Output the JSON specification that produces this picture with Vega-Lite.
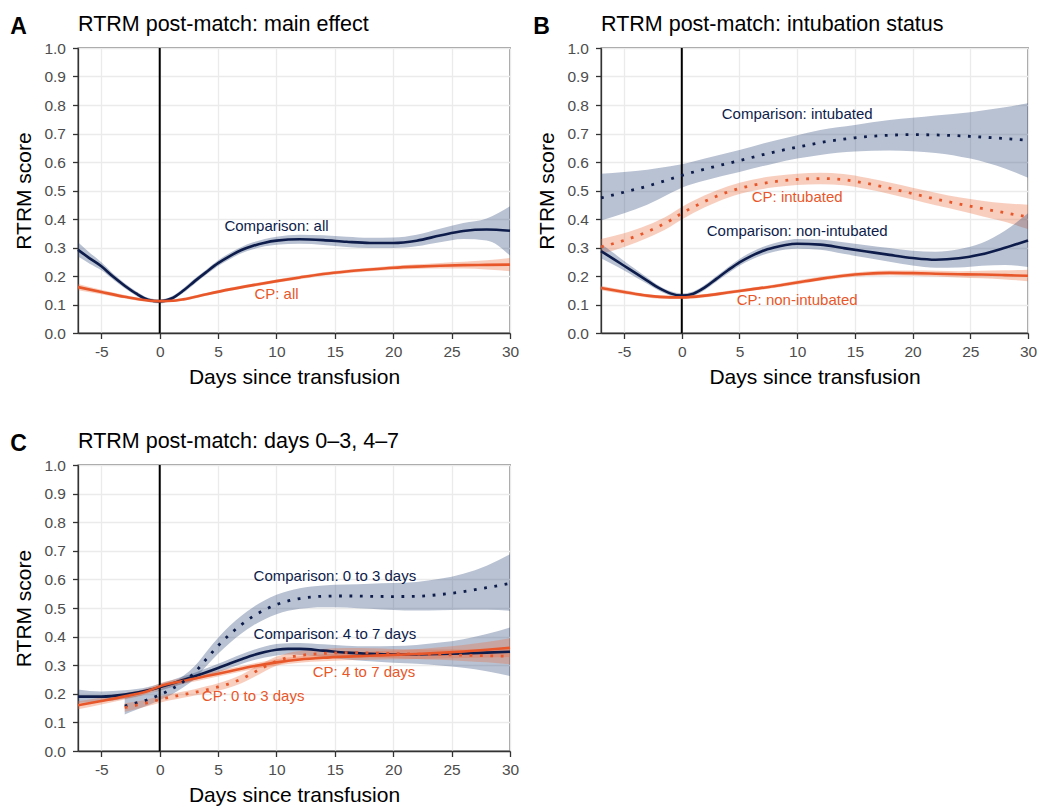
{
  "$schema": "https://vega.github.io/schema/vega-lite/v6.json",
  "padding": {"left": 10, "top": 12, "right": 5, "bottom": 2},
  "background": "white",
  "config": {
    "font": "Liberation Sans",
    "view": {"stroke": "#333333", "strokeWidth": 1.3},
    "axis": {
      "domainColor": "#333333", "domainWidth": 1.3,
      "tickColor": "#333333", "tickWidth": 1.3, "tickSize": 5.5,
      "labelColor": "#4d4d4d", "labelFont": "Liberation Sans", "labelFontSize": 15.5, "labelPadding": 6, "labelOverlap": false,
      "titleFont": "Liberation Sans", "titleFontSize": 21, "titleFontWeight": "normal", "titleColor": "#000000",
      "gridColor": "#ebebeb", "gridWidth": 1.3
    },
    "axisX": {"labelFlush": false, "titlePadding": 6, "tickCount": 20},
    "axisY": {"titlePadding": 9, "labelPadding": 7, "tickCount": 20},
    "title": {"font": "Liberation Sans", "color": "#000000"}
  },
  "datasets": {
    "dA": [
      {"series": "Comparison: all", "arm": "Comparison", "sub": "all", "day": -7, "est": 0.292, "lo": 0.268, "hi": 0.318},
      {"series": "Comparison: all", "arm": "Comparison", "sub": "all", "day": -6, "est": 0.262, "lo": 0.243, "hi": 0.282},
      {"series": "Comparison: all", "arm": "Comparison", "sub": "all", "day": -5, "est": 0.234, "lo": 0.220, "hi": 0.248},
      {"series": "Comparison: all", "arm": "Comparison", "sub": "all", "day": -4, "est": 0.198, "lo": 0.188, "hi": 0.209},
      {"series": "Comparison: all", "arm": "Comparison", "sub": "all", "day": -3, "est": 0.166, "lo": 0.157, "hi": 0.175},
      {"series": "Comparison: all", "arm": "Comparison", "sub": "all", "day": -2, "est": 0.138, "lo": 0.130, "hi": 0.146},
      {"series": "Comparison: all", "arm": "Comparison", "sub": "all", "day": -1, "est": 0.117, "lo": 0.110, "hi": 0.124},
      {"series": "Comparison: all", "arm": "Comparison", "sub": "all", "day": 0, "est": 0.111, "lo": 0.104, "hi": 0.118},
      {"series": "Comparison: all", "arm": "Comparison", "sub": "all", "day": 1, "est": 0.121, "lo": 0.114, "hi": 0.128},
      {"series": "Comparison: all", "arm": "Comparison", "sub": "all", "day": 2, "est": 0.148, "lo": 0.140, "hi": 0.156},
      {"series": "Comparison: all", "arm": "Comparison", "sub": "all", "day": 3, "est": 0.182, "lo": 0.173, "hi": 0.191},
      {"series": "Comparison: all", "arm": "Comparison", "sub": "all", "day": 4, "est": 0.214, "lo": 0.205, "hi": 0.223},
      {"series": "Comparison: all", "arm": "Comparison", "sub": "all", "day": 5, "est": 0.245, "lo": 0.235, "hi": 0.255},
      {"series": "Comparison: all", "arm": "Comparison", "sub": "all", "day": 6, "est": 0.270, "lo": 0.259, "hi": 0.281},
      {"series": "Comparison: all", "arm": "Comparison", "sub": "all", "day": 7, "est": 0.291, "lo": 0.280, "hi": 0.302},
      {"series": "Comparison: all", "arm": "Comparison", "sub": "all", "day": 8, "est": 0.306, "lo": 0.294, "hi": 0.318},
      {"series": "Comparison: all", "arm": "Comparison", "sub": "all", "day": 9, "est": 0.317, "lo": 0.304, "hi": 0.330},
      {"series": "Comparison: all", "arm": "Comparison", "sub": "all", "day": 10, "est": 0.324, "lo": 0.310, "hi": 0.338},
      {"series": "Comparison: all", "arm": "Comparison", "sub": "all", "day": 12, "est": 0.329, "lo": 0.313, "hi": 0.345},
      {"series": "Comparison: all", "arm": "Comparison", "sub": "all", "day": 14, "est": 0.326, "lo": 0.309, "hi": 0.343},
      {"series": "Comparison: all", "arm": "Comparison", "sub": "all", "day": 16, "est": 0.320, "lo": 0.302, "hi": 0.338},
      {"series": "Comparison: all", "arm": "Comparison", "sub": "all", "day": 18, "est": 0.316, "lo": 0.298, "hi": 0.334},
      {"series": "Comparison: all", "arm": "Comparison", "sub": "all", "day": 20, "est": 0.316, "lo": 0.298, "hi": 0.335},
      {"series": "Comparison: all", "arm": "Comparison", "sub": "all", "day": 22, "est": 0.324, "lo": 0.304, "hi": 0.345},
      {"series": "Comparison: all", "arm": "Comparison", "sub": "all", "day": 24, "est": 0.342, "lo": 0.318, "hi": 0.366},
      {"series": "Comparison: all", "arm": "Comparison", "sub": "all", "day": 26, "est": 0.358, "lo": 0.330, "hi": 0.386},
      {"series": "Comparison: all", "arm": "Comparison", "sub": "all", "day": 28, "est": 0.363, "lo": 0.325, "hi": 0.402},
      {"series": "Comparison: all", "arm": "Comparison", "sub": "all", "day": 30, "est": 0.359, "lo": 0.272, "hi": 0.445},
      {"series": "CP: all", "arm": "CP", "sub": "all", "day": -7, "est": 0.161, "lo": 0.150, "hi": 0.172},
      {"series": "CP: all", "arm": "CP", "sub": "all", "day": -5, "est": 0.144, "lo": 0.136, "hi": 0.152},
      {"series": "CP: all", "arm": "CP", "sub": "all", "day": -3, "est": 0.127, "lo": 0.121, "hi": 0.133},
      {"series": "CP: all", "arm": "CP", "sub": "all", "day": -1, "est": 0.114, "lo": 0.109, "hi": 0.119},
      {"series": "CP: all", "arm": "CP", "sub": "all", "day": 0, "est": 0.112, "lo": 0.107, "hi": 0.117},
      {"series": "CP: all", "arm": "CP", "sub": "all", "day": 1, "est": 0.113, "lo": 0.108, "hi": 0.118},
      {"series": "CP: all", "arm": "CP", "sub": "all", "day": 2, "est": 0.118, "lo": 0.113, "hi": 0.123},
      {"series": "CP: all", "arm": "CP", "sub": "all", "day": 4, "est": 0.136, "lo": 0.131, "hi": 0.141},
      {"series": "CP: all", "arm": "CP", "sub": "all", "day": 6, "est": 0.153, "lo": 0.147, "hi": 0.159},
      {"series": "CP: all", "arm": "CP", "sub": "all", "day": 8, "est": 0.168, "lo": 0.162, "hi": 0.174},
      {"series": "CP: all", "arm": "CP", "sub": "all", "day": 10, "est": 0.182, "lo": 0.176, "hi": 0.188},
      {"series": "CP: all", "arm": "CP", "sub": "all", "day": 12, "est": 0.195, "lo": 0.189, "hi": 0.201},
      {"series": "CP: all", "arm": "CP", "sub": "all", "day": 14, "est": 0.207, "lo": 0.201, "hi": 0.213},
      {"series": "CP: all", "arm": "CP", "sub": "all", "day": 16, "est": 0.216, "lo": 0.210, "hi": 0.222},
      {"series": "CP: all", "arm": "CP", "sub": "all", "day": 18, "est": 0.223, "lo": 0.217, "hi": 0.229},
      {"series": "CP: all", "arm": "CP", "sub": "all", "day": 20, "est": 0.229, "lo": 0.222, "hi": 0.236},
      {"series": "CP: all", "arm": "CP", "sub": "all", "day": 22, "est": 0.233, "lo": 0.225, "hi": 0.241},
      {"series": "CP: all", "arm": "CP", "sub": "all", "day": 24, "est": 0.236, "lo": 0.226, "hi": 0.246},
      {"series": "CP: all", "arm": "CP", "sub": "all", "day": 26, "est": 0.238, "lo": 0.226, "hi": 0.250},
      {"series": "CP: all", "arm": "CP", "sub": "all", "day": 28, "est": 0.239, "lo": 0.223, "hi": 0.255},
      {"series": "CP: all", "arm": "CP", "sub": "all", "day": 30, "est": 0.240, "lo": 0.217, "hi": 0.263}
    ],
    "dB": [
      {"series": "Comparison: intubated", "arm": "Comparison", "sub": "intubated", "day": -7, "est": 0.474, "lo": 0.395, "hi": 0.559},
      {"series": "Comparison: intubated", "arm": "Comparison", "sub": "intubated", "day": -5, "est": 0.494, "lo": 0.420, "hi": 0.565},
      {"series": "Comparison: intubated", "arm": "Comparison", "sub": "intubated", "day": -3, "est": 0.515, "lo": 0.450, "hi": 0.573},
      {"series": "Comparison: intubated", "arm": "Comparison", "sub": "intubated", "day": -1, "est": 0.540, "lo": 0.490, "hi": 0.585},
      {"series": "Comparison: intubated", "arm": "Comparison", "sub": "intubated", "day": 0, "est": 0.553, "lo": 0.510, "hi": 0.592},
      {"series": "Comparison: intubated", "arm": "Comparison", "sub": "intubated", "day": 2, "est": 0.575, "lo": 0.535, "hi": 0.612},
      {"series": "Comparison: intubated", "arm": "Comparison", "sub": "intubated", "day": 5, "est": 0.605, "lo": 0.565, "hi": 0.642},
      {"series": "Comparison: intubated", "arm": "Comparison", "sub": "intubated", "day": 8, "est": 0.635, "lo": 0.595, "hi": 0.675},
      {"series": "Comparison: intubated", "arm": "Comparison", "sub": "intubated", "day": 10, "est": 0.652, "lo": 0.612, "hi": 0.694},
      {"series": "Comparison: intubated", "arm": "Comparison", "sub": "intubated", "day": 12, "est": 0.668, "lo": 0.625, "hi": 0.712},
      {"series": "Comparison: intubated", "arm": "Comparison", "sub": "intubated", "day": 15, "est": 0.685, "lo": 0.637, "hi": 0.730},
      {"series": "Comparison: intubated", "arm": "Comparison", "sub": "intubated", "day": 18, "est": 0.694, "lo": 0.640, "hi": 0.747},
      {"series": "Comparison: intubated", "arm": "Comparison", "sub": "intubated", "day": 20, "est": 0.696, "lo": 0.638, "hi": 0.755},
      {"series": "Comparison: intubated", "arm": "Comparison", "sub": "intubated", "day": 22, "est": 0.695, "lo": 0.632, "hi": 0.763},
      {"series": "Comparison: intubated", "arm": "Comparison", "sub": "intubated", "day": 25, "est": 0.690, "lo": 0.612, "hi": 0.775},
      {"series": "Comparison: intubated", "arm": "Comparison", "sub": "intubated", "day": 28, "est": 0.682, "lo": 0.577, "hi": 0.792},
      {"series": "Comparison: intubated", "arm": "Comparison", "sub": "intubated", "day": 30, "est": 0.676, "lo": 0.545, "hi": 0.806},
      {"series": "CP: intubated", "arm": "CP", "sub": "intubated", "day": -7, "est": 0.302, "lo": 0.277, "hi": 0.330},
      {"series": "CP: intubated", "arm": "CP", "sub": "intubated", "day": -5, "est": 0.325, "lo": 0.302, "hi": 0.350},
      {"series": "CP: intubated", "arm": "CP", "sub": "intubated", "day": -3, "est": 0.355, "lo": 0.333, "hi": 0.378},
      {"series": "CP: intubated", "arm": "CP", "sub": "intubated", "day": -1, "est": 0.395, "lo": 0.373, "hi": 0.417},
      {"series": "CP: intubated", "arm": "CP", "sub": "intubated", "day": 0, "est": 0.420, "lo": 0.398, "hi": 0.442},
      {"series": "CP: intubated", "arm": "CP", "sub": "intubated", "day": 2, "est": 0.462, "lo": 0.441, "hi": 0.483},
      {"series": "CP: intubated", "arm": "CP", "sub": "intubated", "day": 4, "est": 0.495, "lo": 0.475, "hi": 0.515},
      {"series": "CP: intubated", "arm": "CP", "sub": "intubated", "day": 6, "est": 0.517, "lo": 0.497, "hi": 0.537},
      {"series": "CP: intubated", "arm": "CP", "sub": "intubated", "day": 8, "est": 0.531, "lo": 0.511, "hi": 0.551},
      {"series": "CP: intubated", "arm": "CP", "sub": "intubated", "day": 10, "est": 0.539, "lo": 0.519, "hi": 0.559},
      {"series": "CP: intubated", "arm": "CP", "sub": "intubated", "day": 12, "est": 0.542, "lo": 0.522, "hi": 0.562},
      {"series": "CP: intubated", "arm": "CP", "sub": "intubated", "day": 14, "est": 0.538, "lo": 0.518, "hi": 0.558},
      {"series": "CP: intubated", "arm": "CP", "sub": "intubated", "day": 16, "est": 0.525, "lo": 0.505, "hi": 0.545},
      {"series": "CP: intubated", "arm": "CP", "sub": "intubated", "day": 18, "est": 0.508, "lo": 0.488, "hi": 0.528},
      {"series": "CP: intubated", "arm": "CP", "sub": "intubated", "day": 20, "est": 0.489, "lo": 0.468, "hi": 0.510},
      {"series": "CP: intubated", "arm": "CP", "sub": "intubated", "day": 22, "est": 0.470, "lo": 0.448, "hi": 0.492},
      {"series": "CP: intubated", "arm": "CP", "sub": "intubated", "day": 24, "est": 0.453, "lo": 0.430, "hi": 0.476},
      {"series": "CP: intubated", "arm": "CP", "sub": "intubated", "day": 26, "est": 0.437, "lo": 0.410, "hi": 0.464},
      {"series": "CP: intubated", "arm": "CP", "sub": "intubated", "day": 28, "est": 0.422, "lo": 0.390, "hi": 0.455},
      {"series": "CP: intubated", "arm": "CP", "sub": "intubated", "day": 30, "est": 0.407, "lo": 0.365, "hi": 0.450},
      {"series": "Comparison: non-intubated", "arm": "Comparison", "sub": "non-intubated", "day": -7, "est": 0.287, "lo": 0.262, "hi": 0.312},
      {"series": "Comparison: non-intubated", "arm": "Comparison", "sub": "non-intubated", "day": -6, "est": 0.262, "lo": 0.241, "hi": 0.283},
      {"series": "Comparison: non-intubated", "arm": "Comparison", "sub": "non-intubated", "day": -5, "est": 0.236, "lo": 0.219, "hi": 0.253},
      {"series": "Comparison: non-intubated", "arm": "Comparison", "sub": "non-intubated", "day": -4, "est": 0.210, "lo": 0.196, "hi": 0.224},
      {"series": "Comparison: non-intubated", "arm": "Comparison", "sub": "non-intubated", "day": -3, "est": 0.184, "lo": 0.173, "hi": 0.195},
      {"series": "Comparison: non-intubated", "arm": "Comparison", "sub": "non-intubated", "day": -2, "est": 0.158, "lo": 0.149, "hi": 0.167},
      {"series": "Comparison: non-intubated", "arm": "Comparison", "sub": "non-intubated", "day": -1, "est": 0.139, "lo": 0.131, "hi": 0.147},
      {"series": "Comparison: non-intubated", "arm": "Comparison", "sub": "non-intubated", "day": 0, "est": 0.131, "lo": 0.123, "hi": 0.139},
      {"series": "Comparison: non-intubated", "arm": "Comparison", "sub": "non-intubated", "day": 1, "est": 0.138, "lo": 0.130, "hi": 0.146},
      {"series": "Comparison: non-intubated", "arm": "Comparison", "sub": "non-intubated", "day": 2, "est": 0.160, "lo": 0.151, "hi": 0.169},
      {"series": "Comparison: non-intubated", "arm": "Comparison", "sub": "non-intubated", "day": 3, "est": 0.190, "lo": 0.180, "hi": 0.200},
      {"series": "Comparison: non-intubated", "arm": "Comparison", "sub": "non-intubated", "day": 4, "est": 0.220, "lo": 0.209, "hi": 0.231},
      {"series": "Comparison: non-intubated", "arm": "Comparison", "sub": "non-intubated", "day": 5, "est": 0.248, "lo": 0.236, "hi": 0.260},
      {"series": "Comparison: non-intubated", "arm": "Comparison", "sub": "non-intubated", "day": 6, "est": 0.270, "lo": 0.257, "hi": 0.283},
      {"series": "Comparison: non-intubated", "arm": "Comparison", "sub": "non-intubated", "day": 7, "est": 0.288, "lo": 0.274, "hi": 0.302},
      {"series": "Comparison: non-intubated", "arm": "Comparison", "sub": "non-intubated", "day": 8, "est": 0.300, "lo": 0.285, "hi": 0.315},
      {"series": "Comparison: non-intubated", "arm": "Comparison", "sub": "non-intubated", "day": 9, "est": 0.309, "lo": 0.293, "hi": 0.325},
      {"series": "Comparison: non-intubated", "arm": "Comparison", "sub": "non-intubated", "day": 10, "est": 0.313, "lo": 0.296, "hi": 0.330},
      {"series": "Comparison: non-intubated", "arm": "Comparison", "sub": "non-intubated", "day": 12, "est": 0.310, "lo": 0.292, "hi": 0.328},
      {"series": "Comparison: non-intubated", "arm": "Comparison", "sub": "non-intubated", "day": 14, "est": 0.298, "lo": 0.278, "hi": 0.318},
      {"series": "Comparison: non-intubated", "arm": "Comparison", "sub": "non-intubated", "day": 16, "est": 0.286, "lo": 0.264, "hi": 0.308},
      {"series": "Comparison: non-intubated", "arm": "Comparison", "sub": "non-intubated", "day": 18, "est": 0.274, "lo": 0.250, "hi": 0.298},
      {"series": "Comparison: non-intubated", "arm": "Comparison", "sub": "non-intubated", "day": 20, "est": 0.263, "lo": 0.237, "hi": 0.289},
      {"series": "Comparison: non-intubated", "arm": "Comparison", "sub": "non-intubated", "day": 22, "est": 0.257, "lo": 0.229, "hi": 0.285},
      {"series": "Comparison: non-intubated", "arm": "Comparison", "sub": "non-intubated", "day": 24, "est": 0.262, "lo": 0.230, "hi": 0.294},
      {"series": "Comparison: non-intubated", "arm": "Comparison", "sub": "non-intubated", "day": 26, "est": 0.276, "lo": 0.236, "hi": 0.316},
      {"series": "Comparison: non-intubated", "arm": "Comparison", "sub": "non-intubated", "day": 28, "est": 0.299, "lo": 0.239, "hi": 0.359},
      {"series": "Comparison: non-intubated", "arm": "Comparison", "sub": "non-intubated", "day": 30, "est": 0.325, "lo": 0.232, "hi": 0.420},
      {"series": "CP: non-intubated", "arm": "CP", "sub": "non-intubated", "day": -7, "est": 0.158, "lo": 0.150, "hi": 0.166},
      {"series": "CP: non-intubated", "arm": "CP", "sub": "non-intubated", "day": -5, "est": 0.144, "lo": 0.137, "hi": 0.151},
      {"series": "CP: non-intubated", "arm": "CP", "sub": "non-intubated", "day": -3, "est": 0.131, "lo": 0.125, "hi": 0.137},
      {"series": "CP: non-intubated", "arm": "CP", "sub": "non-intubated", "day": -1, "est": 0.125, "lo": 0.119, "hi": 0.131},
      {"series": "CP: non-intubated", "arm": "CP", "sub": "non-intubated", "day": 0, "est": 0.125, "lo": 0.119, "hi": 0.131},
      {"series": "CP: non-intubated", "arm": "CP", "sub": "non-intubated", "day": 2, "est": 0.131, "lo": 0.125, "hi": 0.137},
      {"series": "CP: non-intubated", "arm": "CP", "sub": "non-intubated", "day": 4, "est": 0.142, "lo": 0.136, "hi": 0.148},
      {"series": "CP: non-intubated", "arm": "CP", "sub": "non-intubated", "day": 6, "est": 0.153, "lo": 0.147, "hi": 0.159},
      {"series": "CP: non-intubated", "arm": "CP", "sub": "non-intubated", "day": 8, "est": 0.164, "lo": 0.158, "hi": 0.170},
      {"series": "CP: non-intubated", "arm": "CP", "sub": "non-intubated", "day": 10, "est": 0.177, "lo": 0.170, "hi": 0.184},
      {"series": "CP: non-intubated", "arm": "CP", "sub": "non-intubated", "day": 12, "est": 0.190, "lo": 0.183, "hi": 0.197},
      {"series": "CP: non-intubated", "arm": "CP", "sub": "non-intubated", "day": 14, "est": 0.201, "lo": 0.194, "hi": 0.208},
      {"series": "CP: non-intubated", "arm": "CP", "sub": "non-intubated", "day": 16, "est": 0.208, "lo": 0.200, "hi": 0.216},
      {"series": "CP: non-intubated", "arm": "CP", "sub": "non-intubated", "day": 18, "est": 0.211, "lo": 0.203, "hi": 0.219},
      {"series": "CP: non-intubated", "arm": "CP", "sub": "non-intubated", "day": 20, "est": 0.210, "lo": 0.201, "hi": 0.219},
      {"series": "CP: non-intubated", "arm": "CP", "sub": "non-intubated", "day": 22, "est": 0.208, "lo": 0.198, "hi": 0.218},
      {"series": "CP: non-intubated", "arm": "CP", "sub": "non-intubated", "day": 24, "est": 0.206, "lo": 0.195, "hi": 0.217},
      {"series": "CP: non-intubated", "arm": "CP", "sub": "non-intubated", "day": 26, "est": 0.205, "lo": 0.192, "hi": 0.218},
      {"series": "CP: non-intubated", "arm": "CP", "sub": "non-intubated", "day": 28, "est": 0.203, "lo": 0.188, "hi": 0.220},
      {"series": "CP: non-intubated", "arm": "CP", "sub": "non-intubated", "day": 30, "est": 0.201, "lo": 0.182, "hi": 0.222}
    ],
    "dC": [
      {"series": "Comparison: 0 to 3 days", "arm": "Comparison", "sub": "0 to 3 days", "day": -3, "est": 0.157, "lo": 0.128, "hi": 0.186},
      {"series": "Comparison: 0 to 3 days", "arm": "Comparison", "sub": "0 to 3 days", "day": -2, "est": 0.168, "lo": 0.144, "hi": 0.193},
      {"series": "Comparison: 0 to 3 days", "arm": "Comparison", "sub": "0 to 3 days", "day": -1, "est": 0.180, "lo": 0.160, "hi": 0.200},
      {"series": "Comparison: 0 to 3 days", "arm": "Comparison", "sub": "0 to 3 days", "day": 0, "est": 0.196, "lo": 0.178, "hi": 0.214},
      {"series": "Comparison: 0 to 3 days", "arm": "Comparison", "sub": "0 to 3 days", "day": 1, "est": 0.216, "lo": 0.197, "hi": 0.235},
      {"series": "Comparison: 0 to 3 days", "arm": "Comparison", "sub": "0 to 3 days", "day": 2, "est": 0.242, "lo": 0.222, "hi": 0.262},
      {"series": "Comparison: 0 to 3 days", "arm": "Comparison", "sub": "0 to 3 days", "day": 3, "est": 0.275, "lo": 0.253, "hi": 0.297},
      {"series": "Comparison: 0 to 3 days", "arm": "Comparison", "sub": "0 to 3 days", "day": 4, "est": 0.322, "lo": 0.297, "hi": 0.347},
      {"series": "Comparison: 0 to 3 days", "arm": "Comparison", "sub": "0 to 3 days", "day": 5, "est": 0.368, "lo": 0.340, "hi": 0.396},
      {"series": "Comparison: 0 to 3 days", "arm": "Comparison", "sub": "0 to 3 days", "day": 6, "est": 0.408, "lo": 0.378, "hi": 0.438},
      {"series": "Comparison: 0 to 3 days", "arm": "Comparison", "sub": "0 to 3 days", "day": 7, "est": 0.442, "lo": 0.411, "hi": 0.473},
      {"series": "Comparison: 0 to 3 days", "arm": "Comparison", "sub": "0 to 3 days", "day": 8, "est": 0.471, "lo": 0.439, "hi": 0.503},
      {"series": "Comparison: 0 to 3 days", "arm": "Comparison", "sub": "0 to 3 days", "day": 9, "est": 0.494, "lo": 0.461, "hi": 0.527},
      {"series": "Comparison: 0 to 3 days", "arm": "Comparison", "sub": "0 to 3 days", "day": 10, "est": 0.512, "lo": 0.478, "hi": 0.546},
      {"series": "Comparison: 0 to 3 days", "arm": "Comparison", "sub": "0 to 3 days", "day": 12, "est": 0.533, "lo": 0.497, "hi": 0.569},
      {"series": "Comparison: 0 to 3 days", "arm": "Comparison", "sub": "0 to 3 days", "day": 14, "est": 0.541, "lo": 0.503, "hi": 0.579},
      {"series": "Comparison: 0 to 3 days", "arm": "Comparison", "sub": "0 to 3 days", "day": 16, "est": 0.542, "lo": 0.502, "hi": 0.582},
      {"series": "Comparison: 0 to 3 days", "arm": "Comparison", "sub": "0 to 3 days", "day": 18, "est": 0.541, "lo": 0.497, "hi": 0.585},
      {"series": "Comparison: 0 to 3 days", "arm": "Comparison", "sub": "0 to 3 days", "day": 20, "est": 0.540, "lo": 0.493, "hi": 0.587},
      {"series": "Comparison: 0 to 3 days", "arm": "Comparison", "sub": "0 to 3 days", "day": 22, "est": 0.541, "lo": 0.491, "hi": 0.591},
      {"series": "Comparison: 0 to 3 days", "arm": "Comparison", "sub": "0 to 3 days", "day": 24, "est": 0.547, "lo": 0.492, "hi": 0.602},
      {"series": "Comparison: 0 to 3 days", "arm": "Comparison", "sub": "0 to 3 days", "day": 26, "est": 0.557, "lo": 0.494, "hi": 0.620},
      {"series": "Comparison: 0 to 3 days", "arm": "Comparison", "sub": "0 to 3 days", "day": 28, "est": 0.571, "lo": 0.494, "hi": 0.648},
      {"series": "Comparison: 0 to 3 days", "arm": "Comparison", "sub": "0 to 3 days", "day": 30, "est": 0.586, "lo": 0.490, "hi": 0.688},
      {"series": "Comparison: 4 to 7 days", "arm": "Comparison", "sub": "4 to 7 days", "day": -7, "est": 0.190, "lo": 0.168, "hi": 0.215},
      {"series": "Comparison: 4 to 7 days", "arm": "Comparison", "sub": "4 to 7 days", "day": -5, "est": 0.190, "lo": 0.173, "hi": 0.208},
      {"series": "Comparison: 4 to 7 days", "arm": "Comparison", "sub": "4 to 7 days", "day": -3, "est": 0.197, "lo": 0.183, "hi": 0.212},
      {"series": "Comparison: 4 to 7 days", "arm": "Comparison", "sub": "4 to 7 days", "day": -1, "est": 0.212, "lo": 0.200, "hi": 0.224},
      {"series": "Comparison: 4 to 7 days", "arm": "Comparison", "sub": "4 to 7 days", "day": 0, "est": 0.223, "lo": 0.211, "hi": 0.235},
      {"series": "Comparison: 4 to 7 days", "arm": "Comparison", "sub": "4 to 7 days", "day": 1, "est": 0.235, "lo": 0.223, "hi": 0.247},
      {"series": "Comparison: 4 to 7 days", "arm": "Comparison", "sub": "4 to 7 days", "day": 2, "est": 0.248, "lo": 0.235, "hi": 0.261},
      {"series": "Comparison: 4 to 7 days", "arm": "Comparison", "sub": "4 to 7 days", "day": 3, "est": 0.261, "lo": 0.248, "hi": 0.274},
      {"series": "Comparison: 4 to 7 days", "arm": "Comparison", "sub": "4 to 7 days", "day": 4, "est": 0.275, "lo": 0.261, "hi": 0.289},
      {"series": "Comparison: 4 to 7 days", "arm": "Comparison", "sub": "4 to 7 days", "day": 5, "est": 0.290, "lo": 0.275, "hi": 0.305},
      {"series": "Comparison: 4 to 7 days", "arm": "Comparison", "sub": "4 to 7 days", "day": 6, "est": 0.306, "lo": 0.290, "hi": 0.322},
      {"series": "Comparison: 4 to 7 days", "arm": "Comparison", "sub": "4 to 7 days", "day": 7, "est": 0.321, "lo": 0.304, "hi": 0.338},
      {"series": "Comparison: 4 to 7 days", "arm": "Comparison", "sub": "4 to 7 days", "day": 8, "est": 0.335, "lo": 0.317, "hi": 0.353},
      {"series": "Comparison: 4 to 7 days", "arm": "Comparison", "sub": "4 to 7 days", "day": 9, "est": 0.346, "lo": 0.327, "hi": 0.365},
      {"series": "Comparison: 4 to 7 days", "arm": "Comparison", "sub": "4 to 7 days", "day": 10, "est": 0.354, "lo": 0.334, "hi": 0.374},
      {"series": "Comparison: 4 to 7 days", "arm": "Comparison", "sub": "4 to 7 days", "day": 11, "est": 0.357, "lo": 0.337, "hi": 0.377},
      {"series": "Comparison: 4 to 7 days", "arm": "Comparison", "sub": "4 to 7 days", "day": 12, "est": 0.357, "lo": 0.336, "hi": 0.378},
      {"series": "Comparison: 4 to 7 days", "arm": "Comparison", "sub": "4 to 7 days", "day": 14, "est": 0.351, "lo": 0.329, "hi": 0.373},
      {"series": "Comparison: 4 to 7 days", "arm": "Comparison", "sub": "4 to 7 days", "day": 16, "est": 0.344, "lo": 0.320, "hi": 0.368},
      {"series": "Comparison: 4 to 7 days", "arm": "Comparison", "sub": "4 to 7 days", "day": 18, "est": 0.340, "lo": 0.314, "hi": 0.366},
      {"series": "Comparison: 4 to 7 days", "arm": "Comparison", "sub": "4 to 7 days", "day": 20, "est": 0.338, "lo": 0.309, "hi": 0.367},
      {"series": "Comparison: 4 to 7 days", "arm": "Comparison", "sub": "4 to 7 days", "day": 22, "est": 0.338, "lo": 0.305, "hi": 0.371},
      {"series": "Comparison: 4 to 7 days", "arm": "Comparison", "sub": "4 to 7 days", "day": 24, "est": 0.339, "lo": 0.299, "hi": 0.379},
      {"series": "Comparison: 4 to 7 days", "arm": "Comparison", "sub": "4 to 7 days", "day": 26, "est": 0.341, "lo": 0.291, "hi": 0.391},
      {"series": "Comparison: 4 to 7 days", "arm": "Comparison", "sub": "4 to 7 days", "day": 28, "est": 0.344, "lo": 0.279, "hi": 0.409},
      {"series": "Comparison: 4 to 7 days", "arm": "Comparison", "sub": "4 to 7 days", "day": 30, "est": 0.347, "lo": 0.262, "hi": 0.432},
      {"series": "CP: 0 to 3 days", "arm": "CP", "sub": "0 to 3 days", "day": -3, "est": 0.152, "lo": 0.137, "hi": 0.167},
      {"series": "CP: 0 to 3 days", "arm": "CP", "sub": "0 to 3 days", "day": -2, "est": 0.160, "lo": 0.147, "hi": 0.173},
      {"series": "CP: 0 to 3 days", "arm": "CP", "sub": "0 to 3 days", "day": -1, "est": 0.169, "lo": 0.157, "hi": 0.181},
      {"series": "CP: 0 to 3 days", "arm": "CP", "sub": "0 to 3 days", "day": 0, "est": 0.180, "lo": 0.169, "hi": 0.191},
      {"series": "CP: 0 to 3 days", "arm": "CP", "sub": "0 to 3 days", "day": 1, "est": 0.189, "lo": 0.178, "hi": 0.200},
      {"series": "CP: 0 to 3 days", "arm": "CP", "sub": "0 to 3 days", "day": 2, "est": 0.197, "lo": 0.186, "hi": 0.208},
      {"series": "CP: 0 to 3 days", "arm": "CP", "sub": "0 to 3 days", "day": 3, "est": 0.205, "lo": 0.194, "hi": 0.216},
      {"series": "CP: 0 to 3 days", "arm": "CP", "sub": "0 to 3 days", "day": 4, "est": 0.214, "lo": 0.202, "hi": 0.226},
      {"series": "CP: 0 to 3 days", "arm": "CP", "sub": "0 to 3 days", "day": 5, "est": 0.224, "lo": 0.211, "hi": 0.237},
      {"series": "CP: 0 to 3 days", "arm": "CP", "sub": "0 to 3 days", "day": 6, "est": 0.236, "lo": 0.222, "hi": 0.250},
      {"series": "CP: 0 to 3 days", "arm": "CP", "sub": "0 to 3 days", "day": 7, "est": 0.252, "lo": 0.237, "hi": 0.267},
      {"series": "CP: 0 to 3 days", "arm": "CP", "sub": "0 to 3 days", "day": 8, "est": 0.273, "lo": 0.257, "hi": 0.289},
      {"series": "CP: 0 to 3 days", "arm": "CP", "sub": "0 to 3 days", "day": 9, "est": 0.295, "lo": 0.279, "hi": 0.311},
      {"series": "CP: 0 to 3 days", "arm": "CP", "sub": "0 to 3 days", "day": 10, "est": 0.314, "lo": 0.298, "hi": 0.330},
      {"series": "CP: 0 to 3 days", "arm": "CP", "sub": "0 to 3 days", "day": 11, "est": 0.327, "lo": 0.311, "hi": 0.343},
      {"series": "CP: 0 to 3 days", "arm": "CP", "sub": "0 to 3 days", "day": 12, "est": 0.334, "lo": 0.318, "hi": 0.350},
      {"series": "CP: 0 to 3 days", "arm": "CP", "sub": "0 to 3 days", "day": 14, "est": 0.341, "lo": 0.325, "hi": 0.357},
      {"series": "CP: 0 to 3 days", "arm": "CP", "sub": "0 to 3 days", "day": 16, "est": 0.344, "lo": 0.328, "hi": 0.360},
      {"series": "CP: 0 to 3 days", "arm": "CP", "sub": "0 to 3 days", "day": 18, "est": 0.343, "lo": 0.327, "hi": 0.359},
      {"series": "CP: 0 to 3 days", "arm": "CP", "sub": "0 to 3 days", "day": 20, "est": 0.341, "lo": 0.325, "hi": 0.357},
      {"series": "CP: 0 to 3 days", "arm": "CP", "sub": "0 to 3 days", "day": 22, "est": 0.339, "lo": 0.322, "hi": 0.356},
      {"series": "CP: 0 to 3 days", "arm": "CP", "sub": "0 to 3 days", "day": 24, "est": 0.337, "lo": 0.319, "hi": 0.355},
      {"series": "CP: 0 to 3 days", "arm": "CP", "sub": "0 to 3 days", "day": 26, "est": 0.335, "lo": 0.315, "hi": 0.355},
      {"series": "CP: 0 to 3 days", "arm": "CP", "sub": "0 to 3 days", "day": 28, "est": 0.333, "lo": 0.310, "hi": 0.356},
      {"series": "CP: 0 to 3 days", "arm": "CP", "sub": "0 to 3 days", "day": 30, "est": 0.331, "lo": 0.303, "hi": 0.359},
      {"series": "CP: 4 to 7 days", "arm": "CP", "sub": "4 to 7 days", "day": -7, "est": 0.160, "lo": 0.146, "hi": 0.174},
      {"series": "CP: 4 to 7 days", "arm": "CP", "sub": "4 to 7 days", "day": -5, "est": 0.175, "lo": 0.163, "hi": 0.187},
      {"series": "CP: 4 to 7 days", "arm": "CP", "sub": "4 to 7 days", "day": -3, "est": 0.191, "lo": 0.180, "hi": 0.202},
      {"series": "CP: 4 to 7 days", "arm": "CP", "sub": "4 to 7 days", "day": -1, "est": 0.210, "lo": 0.200, "hi": 0.220},
      {"series": "CP: 4 to 7 days", "arm": "CP", "sub": "4 to 7 days", "day": 0, "est": 0.226, "lo": 0.215, "hi": 0.237},
      {"series": "CP: 4 to 7 days", "arm": "CP", "sub": "4 to 7 days", "day": 2, "est": 0.245, "lo": 0.235, "hi": 0.255},
      {"series": "CP: 4 to 7 days", "arm": "CP", "sub": "4 to 7 days", "day": 4, "est": 0.262, "lo": 0.252, "hi": 0.272},
      {"series": "CP: 4 to 7 days", "arm": "CP", "sub": "4 to 7 days", "day": 6, "est": 0.279, "lo": 0.269, "hi": 0.289},
      {"series": "CP: 4 to 7 days", "arm": "CP", "sub": "4 to 7 days", "day": 8, "est": 0.296, "lo": 0.286, "hi": 0.306},
      {"series": "CP: 4 to 7 days", "arm": "CP", "sub": "4 to 7 days", "day": 10, "est": 0.310, "lo": 0.299, "hi": 0.321},
      {"series": "CP: 4 to 7 days", "arm": "CP", "sub": "4 to 7 days", "day": 12, "est": 0.320, "lo": 0.309, "hi": 0.331},
      {"series": "CP: 4 to 7 days", "arm": "CP", "sub": "4 to 7 days", "day": 14, "est": 0.326, "lo": 0.314, "hi": 0.338},
      {"series": "CP: 4 to 7 days", "arm": "CP", "sub": "4 to 7 days", "day": 16, "est": 0.330, "lo": 0.317, "hi": 0.343},
      {"series": "CP: 4 to 7 days", "arm": "CP", "sub": "4 to 7 days", "day": 18, "est": 0.333, "lo": 0.319, "hi": 0.347},
      {"series": "CP: 4 to 7 days", "arm": "CP", "sub": "4 to 7 days", "day": 20, "est": 0.336, "lo": 0.321, "hi": 0.351},
      {"series": "CP: 4 to 7 days", "arm": "CP", "sub": "4 to 7 days", "day": 22, "est": 0.339, "lo": 0.322, "hi": 0.356},
      {"series": "CP: 4 to 7 days", "arm": "CP", "sub": "4 to 7 days", "day": 24, "est": 0.343, "lo": 0.323, "hi": 0.363},
      {"series": "CP: 4 to 7 days", "arm": "CP", "sub": "4 to 7 days", "day": 26, "est": 0.348, "lo": 0.325, "hi": 0.371},
      {"series": "CP: 4 to 7 days", "arm": "CP", "sub": "4 to 7 days", "day": 28, "est": 0.354, "lo": 0.327, "hi": 0.381},
      {"series": "CP: 4 to 7 days", "arm": "CP", "sub": "4 to 7 days", "day": 30, "est": 0.361, "lo": 0.329, "hi": 0.394}
    ],
    "lA": [
      {"label": "Comparison: all", "arm": "Comparison", "day": 10, "score": 0.377},
      {"label": "CP: all", "arm": "CP", "day": 10, "score": 0.136}
    ],
    "lB": [
      {"label": "Comparison: intubated", "arm": "Comparison", "day": 10, "score": 0.768},
      {"label": "CP: intubated", "arm": "CP", "day": 10, "score": 0.477},
      {"label": "Comparison: non-intubated", "arm": "Comparison", "day": 10, "score": 0.357},
      {"label": "CP: non-intubated", "arm": "CP", "day": 10, "score": 0.117}
    ],
    "lC": [
      {"label": "Comparison: 0 to 3 days", "arm": "Comparison", "day": 15, "score": 0.612},
      {"label": "Comparison: 4 to 7 days", "arm": "Comparison", "day": 15, "score": 0.408},
      {"label": "CP: 4 to 7 days", "arm": "CP", "day": 17.5, "score": 0.277},
      {"label": "CP: 0 to 3 days", "arm": "CP", "day": 8, "score": 0.192}
    ]
  },
  "vconcat": [
    {
      "hconcat": [
        {
          "title": {"text": "A", "anchor": "start", "frame": "bounds", "fontSize": 23, "fontWeight": "bold", "offset": -26, "dx": -3},
          "vconcat": [
            {
              "width": 432, "height": 285,
              "title": {"text": "RTRM post-match: main effect", "anchor": "start", "frame": "group", "fontSize": 21.5, "fontWeight": "normal", "offset": 6},
              "layer": [
                {"data": {"name": "dA"}, "mark": {"type": "area", "interpolate": "monotone", "opacity": 0.33},
                 "encoding": {
                   "x": {"field": "day", "type": "quantitative", "scale": {"domain": [-7, 30], "nice": false, "zero": false},
                         "axis": {"values": [-5, 0, 5, 10, 15, 20, 25, 30], "tickCount": 20, "title": "Days since transfusion", "labelExpr": "replace(datum.label, '\u2212', '-')"}},
                   "y": {"field": "lo", "type": "quantitative", "scale": {"domain": [0, 1], "nice": false},
                         "axis": {"values": [0, 0.1, 0.2, 0.3, 0.4, 0.5, 0.6, 0.7, 0.8, 0.9, 1], "tickCount": 20, "format": ".1f", "title": "RTRM score"}},
                   "y2": {"field": "hi"},
                   "color": {"field": "arm", "type": "nominal", "scale": {"domain": ["Comparison", "CP"], "range": ["#2c4575", "#ea6a3c"]}, "legend": null},
                   "detail": {"field": "series"}}},
                {"data": {"values": [{"day": 0}]}, "mark": {"type": "rule", "color": "#000000", "strokeWidth": 2},
                 "encoding": {"x": {"field": "day", "type": "quantitative"}}},
                {"data": {"name": "dA"}, "mark": {"type": "line", "interpolate": "monotone", "strokeWidth": 2.6},
                 "encoding": {
                   "x": {"field": "day", "type": "quantitative"},
                   "y": {"field": "est", "type": "quantitative"},
                   "color": {"field": "arm", "type": "nominal", "scale": {"domain": ["Comparison", "CP"], "range": ["#0d1c4a", "#e8572a"]}, "legend": null},
                   "detail": {"field": "series"}}},
                {"data": {"name": "lA"}, "mark": {"type": "text", "fontSize": 15, "align": "center", "baseline": "middle"},
                 "encoding": {
                   "x": {"field": "day", "type": "quantitative"},
                   "y": {"field": "score", "type": "quantitative"},
                   "text": {"field": "label"},
                   "color": {"field": "arm", "type": "nominal", "scale": {"domain": ["Comparison", "CP"], "range": ["#0d1c4a", "#e8572a"]}, "legend": null}}}
              ],
              "resolve": {"scale": {"color": "independent"}}
            }
          ]
        },
        {
          "title": {"text": "B", "anchor": "start", "frame": "bounds", "fontSize": 23, "fontWeight": "bold", "offset": -26, "dx": -3},
          "vconcat": [
            {
              "width": 427, "height": 285,
              "title": {"text": "RTRM post-match: intubation status", "anchor": "start", "frame": "group", "fontSize": 21.5, "fontWeight": "normal", "offset": 6},
              "layer": [
                {"data": {"name": "dB"}, "mark": {"type": "area", "interpolate": "monotone", "opacity": 0.33},
                 "encoding": {
                   "x": {"field": "day", "type": "quantitative", "scale": {"domain": [-7, 30], "nice": false, "zero": false},
                         "axis": {"values": [-5, 0, 5, 10, 15, 20, 25, 30], "tickCount": 20, "title": "Days since transfusion", "labelExpr": "replace(datum.label, '\u2212', '-')"}},
                   "y": {"field": "lo", "type": "quantitative", "scale": {"domain": [0, 1], "nice": false},
                         "axis": {"values": [0, 0.1, 0.2, 0.3, 0.4, 0.5, 0.6, 0.7, 0.8, 0.9, 1], "tickCount": 20, "format": ".1f", "title": "RTRM score"}},
                   "y2": {"field": "hi"},
                   "color": {"field": "arm", "type": "nominal", "scale": {"domain": ["Comparison", "CP"], "range": ["#2c4575", "#ea6a3c"]}, "legend": null},
                   "detail": {"field": "series"}}},
                {"data": {"values": [{"day": 0}]}, "mark": {"type": "rule", "color": "#000000", "strokeWidth": 2},
                 "encoding": {"x": {"field": "day", "type": "quantitative"}}},
                {"data": {"name": "dB"}, "transform": [{"filter": "datum.sub === 'non-intubated'"}],
                 "mark": {"type": "line", "interpolate": "monotone", "strokeWidth": 2.6},
                 "encoding": {
                   "x": {"field": "day", "type": "quantitative"},
                   "y": {"field": "est", "type": "quantitative"},
                   "color": {"field": "arm", "type": "nominal", "scale": {"domain": ["Comparison", "CP"], "range": ["#0d1c4a", "#e8572a"]}, "legend": null},
                   "detail": {"field": "series"}}},
                {"data": {"name": "dB"}, "transform": [{"filter": "datum.sub === 'intubated'"}],
                 "mark": {"type": "line", "interpolate": "monotone", "strokeWidth": 2.8, "strokeDash": [2.8, 7.6]},
                 "encoding": {
                   "x": {"field": "day", "type": "quantitative"},
                   "y": {"field": "est", "type": "quantitative"},
                   "color": {"field": "arm", "type": "nominal", "scale": {"domain": ["Comparison", "CP"], "range": ["#0d1c4a", "#e8572a"]}, "legend": null},
                   "detail": {"field": "series"}}},
                {"data": {"name": "lB"}, "mark": {"type": "text", "fontSize": 15, "align": "center", "baseline": "middle"},
                 "encoding": {
                   "x": {"field": "day", "type": "quantitative"},
                   "y": {"field": "score", "type": "quantitative"},
                   "text": {"field": "label"},
                   "color": {"field": "arm", "type": "nominal", "scale": {"domain": ["Comparison", "CP"], "range": ["#0d1c4a", "#e8572a"]}, "legend": null}}}
              ],
              "resolve": {"scale": {"color": "independent"}}
            }
          ]
        }
      ],
      "spacing": 13
    },
    {
      "hconcat": [
        {
          "title": {"text": "C", "anchor": "start", "frame": "bounds", "fontSize": 23, "fontWeight": "bold", "offset": -26, "dx": -3},
          "vconcat": [
            {
              "width": 432, "height": 286,
              "title": {"text": "RTRM post-match: days 0\u20133, 4\u20137", "anchor": "start", "frame": "group", "fontSize": 21.5, "fontWeight": "normal", "offset": 6},
              "layer": [
                {"data": {"name": "dC"}, "mark": {"type": "area", "interpolate": "monotone", "opacity": 0.33},
                 "encoding": {
                   "x": {"field": "day", "type": "quantitative", "scale": {"domain": [-7, 30], "nice": false, "zero": false},
                         "axis": {"values": [-5, 0, 5, 10, 15, 20, 25, 30], "tickCount": 20, "title": "Days since transfusion", "labelExpr": "replace(datum.label, '\u2212', '-')"}},
                   "y": {"field": "lo", "type": "quantitative", "scale": {"domain": [0, 1], "nice": false},
                         "axis": {"values": [0, 0.1, 0.2, 0.3, 0.4, 0.5, 0.6, 0.7, 0.8, 0.9, 1], "tickCount": 20, "format": ".1f", "title": "RTRM score"}},
                   "y2": {"field": "hi"},
                   "color": {"field": "arm", "type": "nominal", "scale": {"domain": ["Comparison", "CP"], "range": ["#2c4575", "#ea6a3c"]}, "legend": null},
                   "detail": {"field": "series"}}},
                {"data": {"values": [{"day": 0}]}, "mark": {"type": "rule", "color": "#000000", "strokeWidth": 2},
                 "encoding": {"x": {"field": "day", "type": "quantitative"}}},
                {"data": {"name": "dC"}, "transform": [{"filter": "datum.sub === '4 to 7 days'"}],
                 "mark": {"type": "line", "interpolate": "monotone", "strokeWidth": 2.6},
                 "encoding": {
                   "x": {"field": "day", "type": "quantitative"},
                   "y": {"field": "est", "type": "quantitative"},
                   "color": {"field": "arm", "type": "nominal", "scale": {"domain": ["Comparison", "CP"], "range": ["#0d1c4a", "#e8572a"]}, "legend": null},
                   "detail": {"field": "series"}}},
                {"data": {"name": "dC"}, "transform": [{"filter": "datum.sub === '0 to 3 days'"}],
                 "mark": {"type": "line", "interpolate": "monotone", "strokeWidth": 2.8, "strokeDash": [2.8, 7.6]},
                 "encoding": {
                   "x": {"field": "day", "type": "quantitative"},
                   "y": {"field": "est", "type": "quantitative"},
                   "color": {"field": "arm", "type": "nominal", "scale": {"domain": ["Comparison", "CP"], "range": ["#0d1c4a", "#e8572a"]}, "legend": null},
                   "detail": {"field": "series"}}},
                {"data": {"name": "lC"}, "mark": {"type": "text", "fontSize": 15, "align": "center", "baseline": "middle"},
                 "encoding": {
                   "x": {"field": "day", "type": "quantitative"},
                   "y": {"field": "score", "type": "quantitative"},
                   "text": {"field": "label"},
                   "color": {"field": "arm", "type": "nominal", "scale": {"domain": ["Comparison", "CP"], "range": ["#0d1c4a", "#e8572a"]}, "legend": null}}}
              ],
              "resolve": {"scale": {"color": "independent"}}
            }
          ]
        }
      ]
    }
  ],
  "spacing": 41
}
